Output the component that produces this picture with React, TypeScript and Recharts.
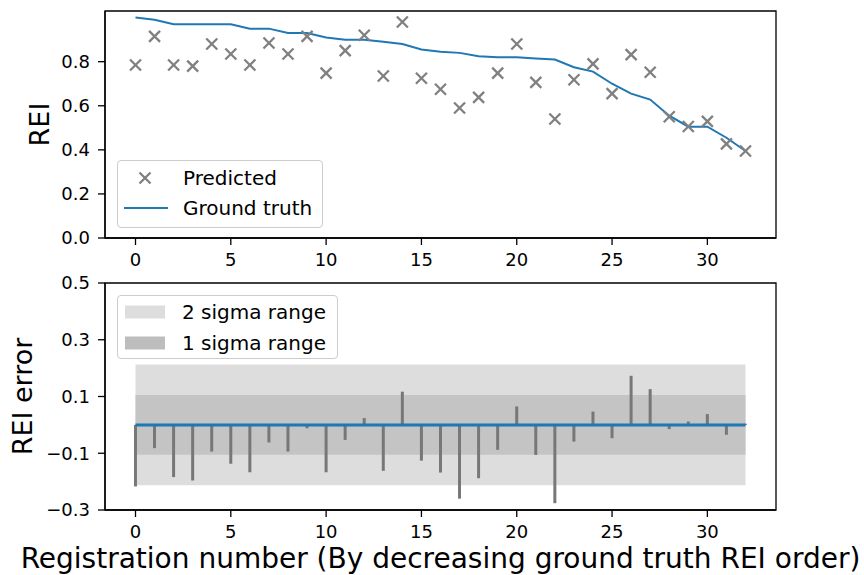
import React from 'react';
import {
  ComposedChart,
  Line,
  Scatter,
  Bar,
  XAxis,
  YAxis,
  ReferenceArea,
  ReferenceLine,
  Legend,
} from 'recharts';

// ---------- data ----------
const registration = [
  0, 1, 2, 3, 4, 5, 6, 7, 8, 9, 10, 11, 12, 13, 14, 15, 16, 17, 18, 19, 20, 21,
  22, 23, 24, 25, 26, 27, 28, 29, 30, 31, 32,
];
const groundTruth = [
  1.0, 0.99, 0.97, 0.97, 0.97, 0.97, 0.95, 0.95, 0.93, 0.93, 0.91, 0.9, 0.9,
  0.89, 0.88, 0.855, 0.845, 0.84, 0.825, 0.82, 0.82, 0.815, 0.81, 0.775, 0.755,
  0.7, 0.655, 0.628, 0.555, 0.505, 0.505, 0.455, 0.395,
];
const predicted = [
  0.785, 0.915, 0.785, 0.78, 0.88, 0.835, 0.785, 0.885, 0.835, 0.915, 0.748,
  0.85, 0.92, 0.735, 0.98, 0.725, 0.675, 0.59, 0.638, 0.748, 0.88, 0.706, 0.54,
  0.718, 0.79, 0.655, 0.832, 0.752, 0.55, 0.506, 0.529, 0.427, 0.395,
];
const reiError = [
  -0.217, -0.082, -0.184, -0.196, -0.094, -0.137, -0.167, -0.062, -0.094,
  -0.012, -0.167, -0.053, 0.024, -0.162, 0.117, -0.126, -0.168, -0.26, -0.188,
  -0.088, 0.065, -0.106, -0.276, -0.059, 0.047, -0.047, 0.173, 0.126, -0.015,
  0.012, 0.038, -0.035, 0.004,
];
const sigma1 = 0.105;
const sigma2 = 0.213;
const xTicks = [0, 5, 10, 15, 20, 25, 30];
const reiTicks = [0, 0.2, 0.4, 0.6, 0.8];
const errTicks = [-0.3, -0.1, 0.1, 0.3, 0.5];
const topLegendLabels = ['Predicted', 'Ground truth'];
const bottomLegendLabels = ['2 sigma range', '1 sigma range'];
const xLabel = 'Registration number (By decreasing ground truth REI order)';

const topData = registration.map((r, i) => ({
  reg: r,
  gt: groundTruth[i],
  pred: predicted[i],
}));
const bottomData = registration.map((r, i) => ({ reg: r, err: reiError[i] }));

// ---------- styles ----------
const FONT = 'DejaVu Sans';
const BLUE = '#1f77b4';
const GRAY = '#808080';
const STEM = '#777777';
const BAND2 = '#dddddd';
const BAND1 = '#c4c4c4';
const X_DOMAIN: [number, number] = [-1.6, 33.6];
const REI_DOMAIN: [number, number] = [0, 1.03];
const ERR_DOMAIN: [number, number] = [-0.3, 0.5];
const tickStyle = { fontSize: 18, fill: '#000', fontFamily: FONT };
const axisLine = { stroke: '#000', strokeWidth: 1.3 };
const tickLine = { stroke: '#000', strokeWidth: 1.3 };

const fmt = (v: number) => v.toFixed(1).replace('-', '\u2212');

const Cross = (props: any) => {
  const { cx, cy } = props;
  if (cx == null || cy == null) return null;
  const s = 5.5;
  return (
    <g stroke={GRAY} strokeWidth={2.3}>
      <line x1={cx - s} y1={cy - s} x2={cx + s} y2={cy + s} />
      <line x1={cx - s} y1={cy + s} x2={cx + s} y2={cy - s} />
    </g>
  );
};

const yLabel = (text: string, x: number) => (props: any) => {
  const vb = props.viewBox || { y: 0, height: 0 };
  const cy = vb.y + vb.height / 2;
  return (
    <text
      x={x}
      y={cy}
      transform={`rotate(-90, ${x}, ${cy})`}
      textAnchor="middle"
      dominantBaseline="central"
      fontSize={27}
      fontFamily={FONT}
      fill="#000"
    >
      {text}
    </text>
  );
};

const boxStyle: React.CSSProperties = {
  boxSizing: 'border-box',
  border: '1px solid #cccccc',
  borderRadius: 4,
  background: 'rgba(255,255,255,0.8)',
};

const TopLegend = () => (
  <div style={{ ...boxStyle, width: 206, height: 68 }}>
    <svg width={206} height={68} style={{ display: 'block' }}>
      <Cross cx={27} cy={17} />
      <line x1={6} y1={47} x2={50} y2={47} stroke={BLUE} strokeWidth={2} />
      {topLegendLabels.map((t, i) => (
        <text
          key={t}
          x={65}
          y={17 + i * 30}
          dominantBaseline="central"
          fontSize={20}
          fontFamily={FONT}
          fill="#000"
        >
          {t}
        </text>
      ))}
    </svg>
  </div>
);

const BottomLegend = () => (
  <div style={{ ...boxStyle, width: 221, height: 64 }}>
    <svg width={221} height={64} style={{ display: 'block' }}>
      <rect x={7} y={16 - 6.5} width={40} height={13} fill={BAND2} />
      <rect x={7} y={47 - 6.5} width={40} height={13} fill="#bdbdbd" />
      {bottomLegendLabels.map((t, i) => (
        <text
          key={t}
          x={64}
          y={16 + i * 31}
          dominantBaseline="central"
          fontSize={20}
          fontFamily={FONT}
          fill="#000"
        >
          {t}
        </text>
      ))}
    </svg>
  </div>
);

export default function App() {
  return (
    <div
      style={{
        position: 'absolute',
        left: 0,
        top: 0,
        width: 864,
        height: 575,
        background: '#fff',
        overflow: 'hidden',
      }}
    >
      <div style={{ position: 'absolute', left: 0, top: 0 }}>
        <ComposedChart
          width={864}
          height={270}
          data={topData}
          margin={{ top: 11, right: 88, bottom: 0, left: 0 }}
        >
          <XAxis
            dataKey="reg"
            type="number"
            domain={X_DOMAIN}
            ticks={xTicks}
            allowDataOverflow
            height={32}
            tickSize={7}
            tickMargin={8}
            tick={tickStyle}
            axisLine={axisLine}
            tickLine={tickLine}
          />
          <YAxis
            type="number"
            domain={REI_DOMAIN}
            ticks={reiTicks}
            allowDataOverflow
            width={105}
            tickSize={7}
            tickMargin={8}
            tick={tickStyle}
            tickFormatter={fmt}
            axisLine={axisLine}
            tickLine={tickLine}
            label={{ content: yLabel('REI', 39) }}
          />
          <ReferenceArea
            x1={X_DOMAIN[0]}
            x2={X_DOMAIN[1]}
            y1={REI_DOMAIN[0]}
            y2={REI_DOMAIN[1]}
            fill="none"
            stroke="#000"
            strokeWidth={1.3}
            ifOverflow="visible"
          />
          <Line
            dataKey="gt"
            type="linear"
            stroke={BLUE}
            strokeWidth={2}
            dot={false}
            isAnimationActive={false}
          />
          <Scatter dataKey="pred" shape={Cross} isAnimationActive={false} />
          <Legend
            layout="horizontal"
            verticalAlign="middle"
            align="center"
            wrapperStyle={{ left: 117, top: 160, width: 206, height: 68 }}
            content={() => <TopLegend />}
          />
        </ComposedChart>
      </div>
      <div style={{ position: 'absolute', left: 0, top: 270 }}>
        <ComposedChart
          width={864}
          height={305}
          data={bottomData}
          margin={{ top: 13, right: 88, bottom: 0, left: 0 }}
        >
          <XAxis
            dataKey="reg"
            type="number"
            domain={X_DOMAIN}
            ticks={xTicks}
            allowDataOverflow
            height={65}
            tickSize={7}
            tickMargin={8}
            tick={tickStyle}
            axisLine={axisLine}
            tickLine={tickLine}
            label={{
              value: xLabel,
              position: 'insideBottom',
              offset: 7,
              style: { fontSize: 28, fontFamily: FONT, fill: '#000' },
            }}
          />
          <YAxis
            type="number"
            domain={ERR_DOMAIN}
            ticks={errTicks}
            allowDataOverflow
            width={105}
            tickSize={7}
            tickMargin={8}
            tick={tickStyle}
            tickFormatter={fmt}
            axisLine={axisLine}
            tickLine={tickLine}
            label={{ content: yLabel('REI error', 22) }}
          />
          <ReferenceArea
            x1={0}
            x2={32}
            y1={-sigma2}
            y2={sigma2}
            fill={BAND2}
            fillOpacity={1}
            stroke="none"
          />
          <ReferenceArea
            x1={0}
            x2={32}
            y1={-sigma1}
            y2={sigma1}
            fill={BAND1}
            fillOpacity={1}
            stroke="none"
          />
          <ReferenceArea
            x1={X_DOMAIN[0]}
            x2={X_DOMAIN[1]}
            y1={ERR_DOMAIN[0]}
            y2={ERR_DOMAIN[1]}
            fill="none"
            stroke="#000"
            strokeWidth={1.3}
            ifOverflow="visible"
          />
          <Bar
            dataKey="err"
            barSize={3}
            fill={STEM}
            isAnimationActive={false}
          />
          <ReferenceLine
            segment={[
              { x: 0, y: 0 },
              { x: 32, y: 0 },
            ]}
            stroke={BLUE}
            strokeWidth={3}
          />
          <Legend
            layout="horizontal"
            verticalAlign="middle"
            align="center"
            wrapperStyle={{ left: 117, top: 25, width: 221, height: 64 }}
            content={() => <BottomLegend />}
          />
        </ComposedChart>
      </div>
    </div>
  );
}
